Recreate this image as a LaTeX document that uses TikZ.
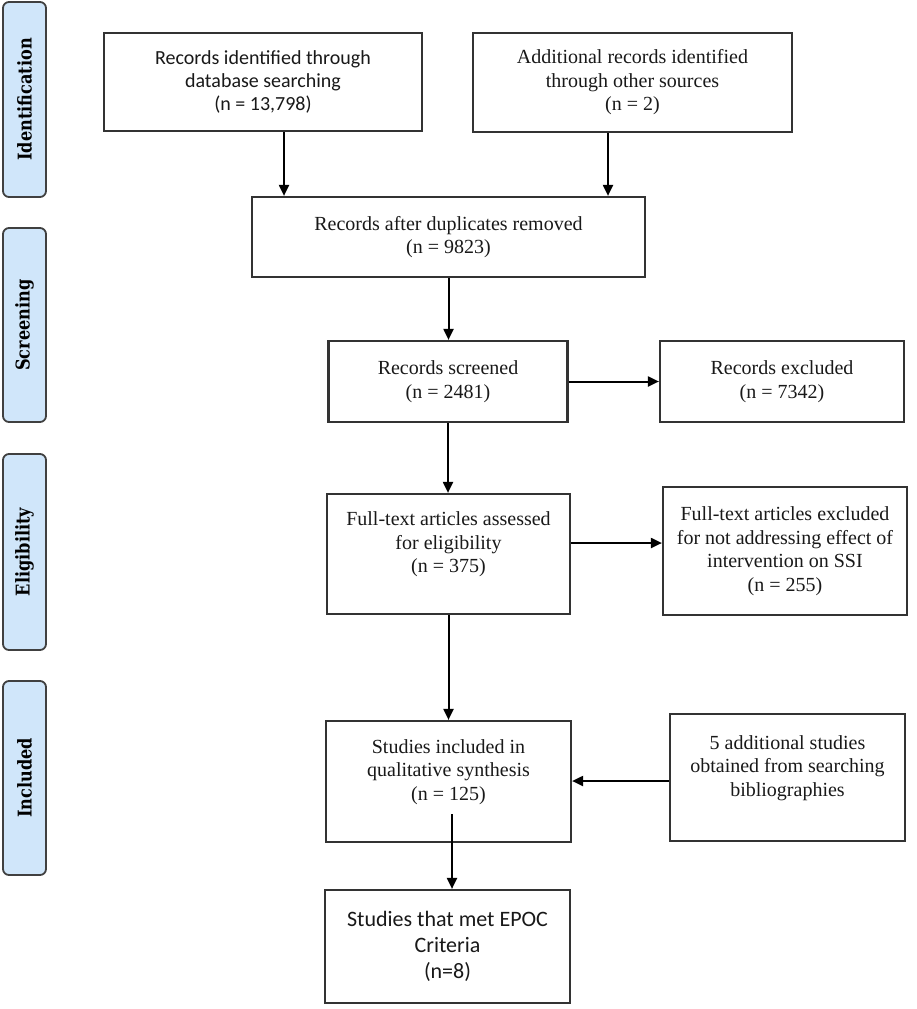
\documentclass[tikz,border=0pt]{standalone}
\usepackage{fontspec}
\setmainfont{Liberation Serif}
\newfontfamily\calibri{Carlito}
\newfontfamily\stagefont{DejaVu Serif Bold}[FakeStretch=0.85]
\usetikzlibrary{arrows.meta}
\definecolor{stageblue}{RGB}{208,230,250}
\tikzset{
	box/.style={draw=black!80, line width=2.2pt, fill=white, align=center, inner sep=4pt, text=black!90, font=\fontsize{20}{23.5}\selectfont},
	stage/.style={draw=black!75, fill=stageblue, rounded corners=6pt, line width=1.8pt, rotate=90, minimum height=43, font=\stagefont\fontsize{19}{21}\selectfont},
	arr/.style={line width=2pt, -{Triangle[length=11pt,width=10pt]}}
}
\begin{document}
\begin{tikzpicture}[x=1pt,y=-1pt]
	\useasboundingbox (0,0) rectangle (917,1009);
	\node[stage, minimum width=195] (sid) at (24.5,99.5) {Identification};
	\node[stage, minimum width=194] (ssc) at (24.5,325) {Screening};
	\node[stage, minimum width=196] (sel) at (24.5,552) {Eligibility};
	\node[stage, minimum width=194] (sin) at (24.5,778) {Included};
	\node[box, minimum width=318, minimum height=98, font=\calibri\fontsize{20}{23.3}\selectfont] (db) at (263,82) {Records identified through\\database searching\\(n = 13,798)};
	\node[box, minimum width=319, minimum height=99] (add) at (632.5,82.5) {Additional records identified\\through other sources\\(n = 2)};
	\node[box, minimum width=393, minimum height=80] (dup) at (448.5,237) {Records after duplicates removed\\(n = 9823)};
	\node[box, minimum width=239, minimum height=81] (scr) at (448,381.5) {Records screened\\(n = 2481)};
	\node[box, minimum width=244, minimum height=81] (exc) at (782,381.5) {Records excluded\\(n = 7342)};
	\node[box, minimum width=243, minimum height=120] (ass) at (448.5,554) {Full-text articles assessed\\for eligibility\\(n = 375)\\\mbox{}};
	\node[box, minimum width=244, minimum height=128] (exf) at (785,551) {Full-text articles excluded\\for not addressing effect of\\intervention on SSI\\(n = 255)};
	\node[box, minimum width=245, minimum height=121] (inc) at (448.5,781.5) {Studies included in\\qualitative synthesis\\(n = 125)\\\mbox{}};
	\node[box, minimum width=235, minimum height=127] (bib) at (787.5,777.5) {5 additional studies\\obtained from searching\\bibliographies\\\mbox{}};
	\node[box, minimum width=245, minimum height=113, font=\calibri\fontsize{22}{26}\selectfont] (epoc) at (447.5,946.5) {Studies that met EPOC\\Criteria\\(n=8)};
	\draw[arr] ([xshift=21]db.south) -- ([xshift=21]db.south |- dup.north);
	\draw[arr] ([xshift=-24.5]add.south) -- ([xshift=-24.5]add.south |- dup.north);
	\draw[arr] (dup.south) -- (dup.south |- scr.north);
	\draw[arr] (scr.east) -- (exc.west);
	\draw[arr] (scr.south) -- (scr.south |- ass.north);
	\draw[arr] ([yshift=11]ass.east) -- ([yshift=11]ass.east -| exf.west);
	\draw[arr] (ass.south) -- (ass.south |- inc.north);
	\draw[arr] ([yshift=-3.5]bib.west) -- ([yshift=-3.5]bib.west -| inc.east);
	\draw[arr] ([xshift=3.5,yshift=29]inc.south) -- ([xshift=3.5]inc.south |- epoc.north);
\end{tikzpicture}
\end{document}
